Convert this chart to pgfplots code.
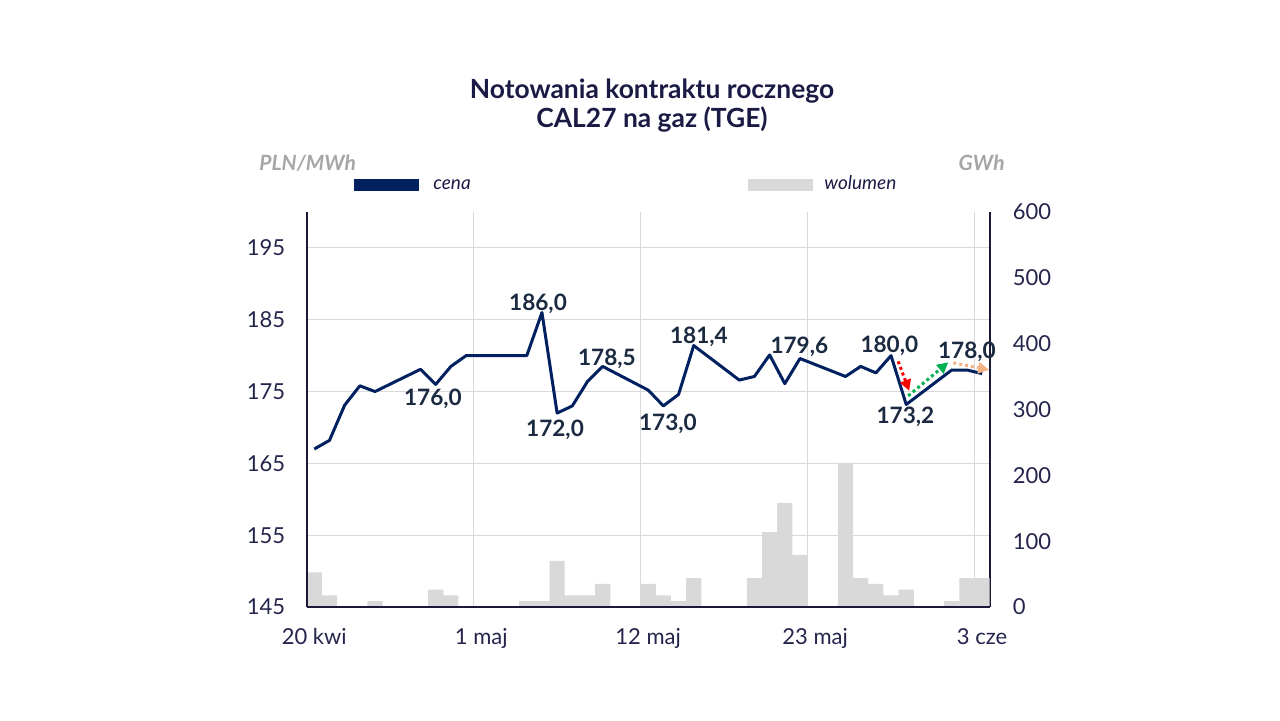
\documentclass[border=0pt]{standalone}
\usepackage{pgfplots}
\pgfplotsset{compat=1.18}
\usepackage{pgfplotstable}
\usepackage{fontspec}
\setmainfont{Lato}
\usetikzlibrary{arrows.meta}
\definecolor{navy}{HTML}{002060}
\definecolor{ttl}{HTML}{1A1A44}
\definecolor{tickc}{HTML}{24244C}
\definecolor{lbl}{HTML}{1B2A40}
\definecolor{barg}{HTML}{D9D9D9}
\definecolor{gridc}{HTML}{D9D9D9}
\definecolor{unitc}{HTML}{A6A6A6}
\definecolor{axc}{HTML}{1A1A38}
\definecolor{peach}{HTML}{F4B183}
\definecolor{grn}{HTML}{00B050}
\definecolor{redc}{HTML}{FF0000}

\pgfplotstableread{
d v
0.5 52.6
1.5 17.5
4.5 8.8
8.5 26.3
9.5 17.5
14.5 8.8
15.5 8.8
16.5 70.1
17.5 17.5
18.5 17.5
19.5 35.0
22.5 35.0
23.5 17.5
24.5 8.8
25.5 43.8
29.5 43.8
30.5 113.9
31.5 157.7
32.5 78.8
35.5 219.0
36.5 43.8
37.5 35.0
38.5 17.5
39.5 26.3
42.5 8.8
43.5 43.8
44.5 43.8
}\vol

\pgfplotstableread{
d p
0.5 167.0
1.5 168.2
2.5 173.1
3.5 175.8
4.5 175.0
7.5 178.1
8.5 176.0
9.5 178.5
10.5 180.0
14.5 180.0
15.5 186.0
16.5 172.0
17.5 173.0
18.5 176.4
19.5 178.5
22.5 175.2
23.5 173.0
24.5 174.6
25.5 181.4
28.5 176.6
29.5 177.1
30.5 180.1
31.5 176.1
32.5 179.6
35.5 177.1
36.5 178.5
37.5 177.6
38.5 180.0
39.5 173.2
42.5 178.0
43.5 178.0
44.5 177.5
}\price

\begin{document}
\begin{tikzpicture}[x=1pt,y=1pt]
\path[use as bounding box] (0,0) rectangle (640,360);
\pgfplotsset{base/.style={scale only axis, width=341.5pt, height=197.5pt,
  at={(153.35pt,56.5pt)}, anchor=south west, xmin=0, xmax=45,
  /pgf/number format/assume math mode=true,
  tick label style={font=\fontsize{11}{13}\selectfont, text=tickc},
  major tick length=0pt, minor tick length=0pt}}

% grid and left/bottom tick labels
\begin{axis}[base, ymin=145, ymax=200, ytick={145,155,...,195},
  axis x line*=bottom, axis y line*=left, axis line style={draw=none},
  xtick={0.5,11.5,22.5,33.5,44.5},
  xticklabels={20 kwi,1 maj,12 maj,23 maj,3 cze},
  minor xtick={11,22,33,44}, xminorgrids, ymajorgrids,
  major grid style={gridc, line width=0.55pt},
  minor grid style={gridc, line width=0.55pt},
  yticklabel style={xshift=-7.2pt},
  xticklabel style={yshift=-7.2pt}]
\end{axis}

% volume bars, right axis
\begin{axis}[base, ymin=0, ymax=600, ytick={0,100,...,600},
  axis y line*=right, axis x line=none,
  axis line style={axc, line width=0.8pt},
  yticklabel style={xshift=8.0pt}]
\addplot[ybar, bar width=1, bar shift=0pt, fill=barg, draw=none] table[x=d,y=v]{\vol};
\end{axis}

% price line
\begin{axis}[base, ymin=145, ymax=200, clip=false,
  axis x line*=bottom, axis y line*=left, xtick=\empty, ytick=\empty,
  axis line style={axc, line width=0.9pt}]
\addplot[navy, line width=1.5pt, line join=round, mark=none] table[x=d,y=p]{\price};
\begin{scope}[every node/.style={font=\bfseries\fontsize{11.3}{13}\selectfont, text=lbl, anchor=base, inner sep=0pt}]
\node at (axis cs:15.24,186.25) {186,0};
\node at (axis cs:8.32,173.06) {176,0};
\node at (axis cs:16.36,168.68) {172,0};
\node at (axis cs:19.78,178.61) {178,5};
\node at (axis cs:23.8,169.58) {173,0};
\node at (axis cs:25.84,181.63) {181,4};
\node at (axis cs:32.46,180.24) {179,6};
\node at (axis cs:38.39,180.46) {180,0};
\node at (axis cs:39.45,170.6) {173,2};
\node at (axis cs:43.5,179.54) {178,0};
\end{scope}
\begin{scope}[line width=1.5pt, dash pattern=on 1.5pt off 1.5pt]
\draw[redc, -{Triangle[length=5.5pt,width=5.5pt]}] (axis cs:38.97,179.2) -- (axis cs:39.7,175.1);
\draw[grn, -{Triangle[length=5.5pt,width=5.5pt]}] (axis cs:39.63,174.4) -- (axis cs:42.27,179.07);
\draw[peach, -{Triangle[length=5.5pt,width=5.5pt]}] (axis cs:42.6,179.0) -- (axis cs:44.97,178.0);
\end{scope}
\end{axis}

% title
\node[anchor=base, font=\bfseries\fontsize{13.2}{15}\selectfont, text=ttl] at (326,311) {Notowania kontraktu rocznego};
\node[anchor=base, font=\bfseries\fontsize{13.2}{15}\selectfont, text=ttl] at (326,296.5) {CAL27 na gaz (TGE)};
% units
\node[anchor=base west, inner sep=0pt, font=\bfseries\itshape\fontsize{10.5}{12}\selectfont, text=unitc] at (129.5,275) {PLN/MWh};
\node[anchor=base east, inner sep=0pt, font=\bfseries\itshape\fontsize{10.5}{12}\selectfont, text=unitc] at (502.5,275) {GWh};
% legend
\fill[navy] (177,264.65) rectangle (209.5,270.35);
\node[anchor=base west, inner sep=0pt, font=\itshape\fontsize{9.5}{11}\selectfont, text=ttl] at (216.5,265.5) {cena};
\fill[barg] (374,264.65) rectangle (406.5,270.35);
\node[anchor=base west, inner sep=0pt, font=\itshape\fontsize{9.5}{11}\selectfont, text=ttl] at (412,265.5) {wolumen};
\end{tikzpicture}
\end{document}
